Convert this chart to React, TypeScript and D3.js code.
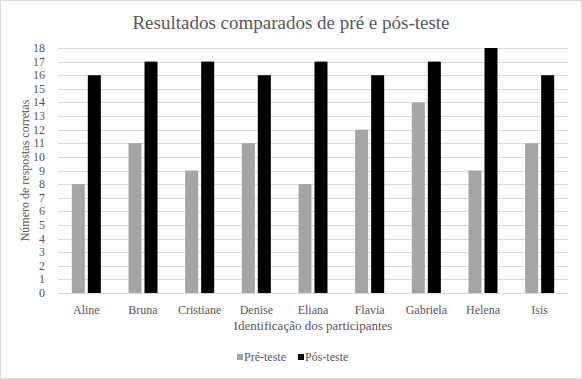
import React from "react";
import * as d3 from "d3";

const categories = ["Aline", "Bruna", "Cristiane", "Denise", "Eliana", "Flavia", "Gabriela", "Helena", "Isis"];
const preTeste = [8, 11, 9, 11, 8, 12, 14, 9, 11];
const posTeste = [16, 17, 17, 16, 17, 16, 17, 18, 16];
const yTicks = d3.range(0, 19);
const seriesNames = ["Pré-teste", "Pós-teste"];
const seriesColors = ["#a5a5a5", "#000000"];

const W = 582, H = 379;
const plot = { left: 58, right: 568, top: 48, bottom: 293 };
const font = "'Liberation Serif', 'Times New Roman', serif";
const textColor = "#595959";

export default function App() {
  const x = d3.scaleBand<string>().domain(categories).range([plot.left, plot.right]);
  const y = d3.scaleLinear().domain([0, 18]).range([plot.bottom, plot.top]);
  const barW = 13;
  const gap = 3;
  const series = [preTeste, posTeste];
  return (
    <svg width={W} height={H} style={{ position: "absolute", left: 0, top: 0, background: "#fff" }}>
      <rect x={0.5} y={0.5} width={W - 1} height={H - 1} fill="#fff" stroke="#d9d9d9" />
      <text x={W / 2} y={29} textAnchor="middle" fontFamily={font} fontSize={19} fill={textColor}>
        Resultados comparados de pré e pós-teste
      </text>
      {yTicks.map((t) => (
        <g key={t}>
          <line x1={plot.left} x2={plot.right} y1={Math.round(y(t)) + 0.5} y2={Math.round(y(t)) + 0.5} stroke="#d9d9d9" />
          <text x={45} y={y(t) + 4} textAnchor="end" fontFamily={font} fontSize={12} fill={textColor}>{t}</text>
        </g>
      ))}
      {categories.map((c, i) => {
        const cx = (x(c) as number) + x.bandwidth() / 2;
        return (
          <g key={c}>
            {series.map((s, j) => {
              const bx = j === 0 ? cx - gap / 2 - barW : cx + gap / 2;
              return (
                <rect key={j} x={bx} y={y(s[i])} width={barW} height={y(0) - y(s[i])} fill={seriesColors[j]} />
              );
            })}
            <text x={cx} y={314} textAnchor="middle" fontFamily={font} fontSize={12} fill={textColor}>{c}</text>
          </g>
        );
      })}
      <text x={(plot.left + plot.right) / 2} y={330} textAnchor="middle" fontFamily={font} fontSize={13} fill={textColor}>
        Identificação dos participantes
      </text>
      <text transform={`translate(29, ${(plot.top + plot.bottom) / 2}) rotate(-90)`} textAnchor="middle" fontFamily={font} fontSize={12} fill={textColor}>
        Número de respostas corretas
      </text>
      {seriesNames.map((n, j) => {
        const lx = j === 0 ? 237 : 298;
        return (
          <g key={n}>
            <rect x={lx} y={354} width={6} height={6} fill={seriesColors[j]} />
            <text x={lx + 7} y={361} fontFamily={font} fontSize={12} fill={textColor}>{n}</text>
          </g>
        );
      })}
    </svg>
  );
}
